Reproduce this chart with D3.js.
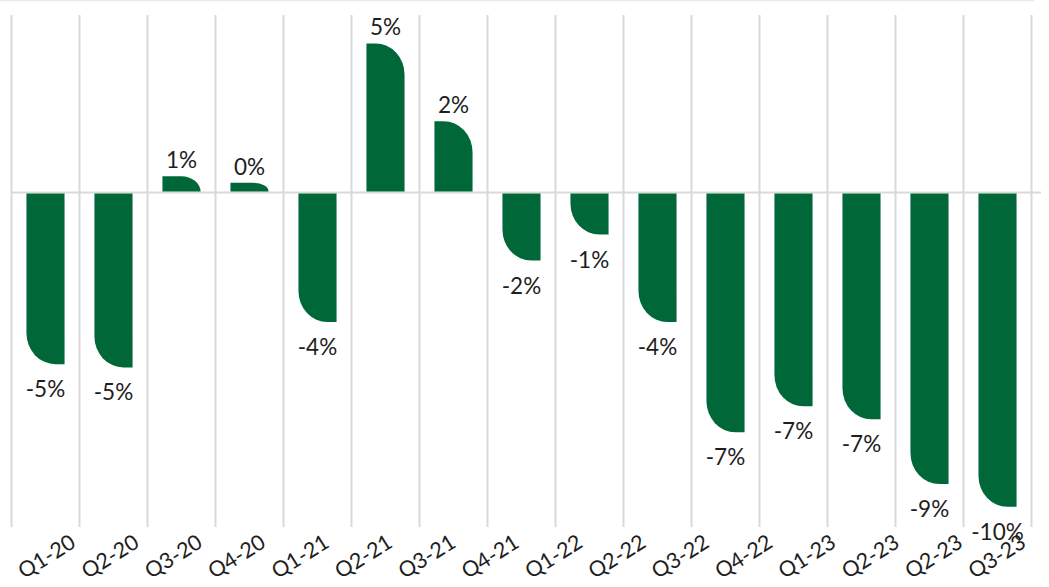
<!DOCTYPE html>
<html>
<head>
<meta charset="utf-8">
<script src="https://cdn.jsdelivr.net/npm/d3@7"></script>
<style>
  html, body { margin: 0; padding: 0; background: #fff; }
  svg { display: block; }
  text { font-family: Lato, "Open Sans", sans-serif; fill: #1e1e1e; }
</style>
</head>
<body>
<svg id="chart" width="1049" height="587"></svg>
<script>
// Quarterly change, in percent
const quarters = ["Q1-20","Q2-20","Q3-20","Q4-20","Q1-21","Q2-21","Q3-21","Q4-21",
                  "Q1-22","Q2-22","Q3-22","Q4-22","Q1-23","Q2-23","Q3-23"];
const changes  = [-5.3, -5.4, 0.5, 0.3, -4.0, 4.6, 2.2, -2.1,
                  -1.3, -4.0, -7.4, -6.6, -7.0, -9.0, -9.7];
// Category labels shown along the bottom axis
const tickLabels = ["Q1-20","Q2-20","Q3-20","Q4-20","Q1-21","Q2-21","Q3-21","Q4-21",
                    "Q1-22","Q2-22","Q3-22","Q4-22","Q1-23","Q2-23","Q2-23","Q3-23"];

const left = 11.5, right = 1031.5, gridTop = 15, gridBottom = 527;
const green = "#006838";

const svg = d3.select("#chart");

const x = d3.scaleBand()
  .domain(quarters)
  .range([left, right])
  .paddingInner(0.44)
  .paddingOuter(0.22);

const y = d3.scaleLinear()
  .domain([-10, 5])
  .range([192.5 + 324, 192.5 - 162]);

const labelX = d3.scalePoint()
  .domain(d3.range(tickLabels.length))
  .range([left, right])
  .padding(0.55);

// top rule
svg.append("line")
  .attr("x1", 0).attr("x2", 1034).attr("y1", 0.5).attr("y2", 0.5)
  .attr("stroke", "#e2ecec").attr("stroke-width", 1.5);

// vertical gridlines on category boundaries
const bounds = d3.range(quarters.length + 1).map(i => x.range()[0] + i * x.step());
svg.append("g").selectAll("line")
  .data(bounds)
  .join("line")
  .attr("x1", d => d).attr("x2", d => d)
  .attr("y1", gridTop).attr("y2", gridBottom)
  .attr("stroke", "#d9d9d9").attr("stroke-width", 2);

// zero baseline
svg.append("line")
  .attr("x1", left).attr("x2", 1041)
  .attr("y1", y(0)).attr("y2", y(0))
  .attr("stroke", "#d9d9d9").attr("stroke-width", 2);

// bars with one rounded outer corner
function barPath(v, name) {
  const x0 = x(name), x1 = x0 + x.bandwidth();
  const y0 = y(0) + (v < 0 ? 1 : -1);
  const ye = y(v);
  const h = Math.abs(ye - y0);
  const ry = Math.min(31, h);
  const rx = Math.min(29, h * 0.6 + 10);
  if (v >= 0) {
    return `M${x0},${y0}V${ye}H${x1 - rx}A${rx},${ry} 0 0 1 ${x1},${ye + ry}V${y0}Z`;
  }
  return `M${x0},${y0}V${ye - ry}A${rx},${ry} 0 0 0 ${x0 + rx},${ye}H${x1}V${y0}Z`;
}

const data = quarters.map((q, i) => ({ q, v: changes[i] }));

svg.append("g").selectAll("path")
  .data(data)
  .join("path")
  .attr("d", d => barPath(d.v, d.q))
  .attr("fill", green);

// value labels
svg.append("g").selectAll("text")
  .data(data)
  .join("text")
  .attr("x", d => x(d.q) + x.bandwidth() / 2)
  .attr("y", d => d.v >= 0 ? y(d.v) - 8 : y(d.v) + 33)
  .attr("text-anchor", "middle")
  .attr("font-size", 22.5)
  .text(d => Math.round(d.v) + "%");

// rotated category labels
svg.append("g").selectAll("text")
  .data(tickLabels.map((t, i) => ({ t, i })))
  .join("text")
  .attr("transform", d => `translate(${labelX(d.i)},556) rotate(-32)`)
  .attr("text-anchor", "middle")
  .attr("dominant-baseline", "central")
  .attr("font-size", 21.5)
  .text(d => d.t);
</script>
</body>
</html>
